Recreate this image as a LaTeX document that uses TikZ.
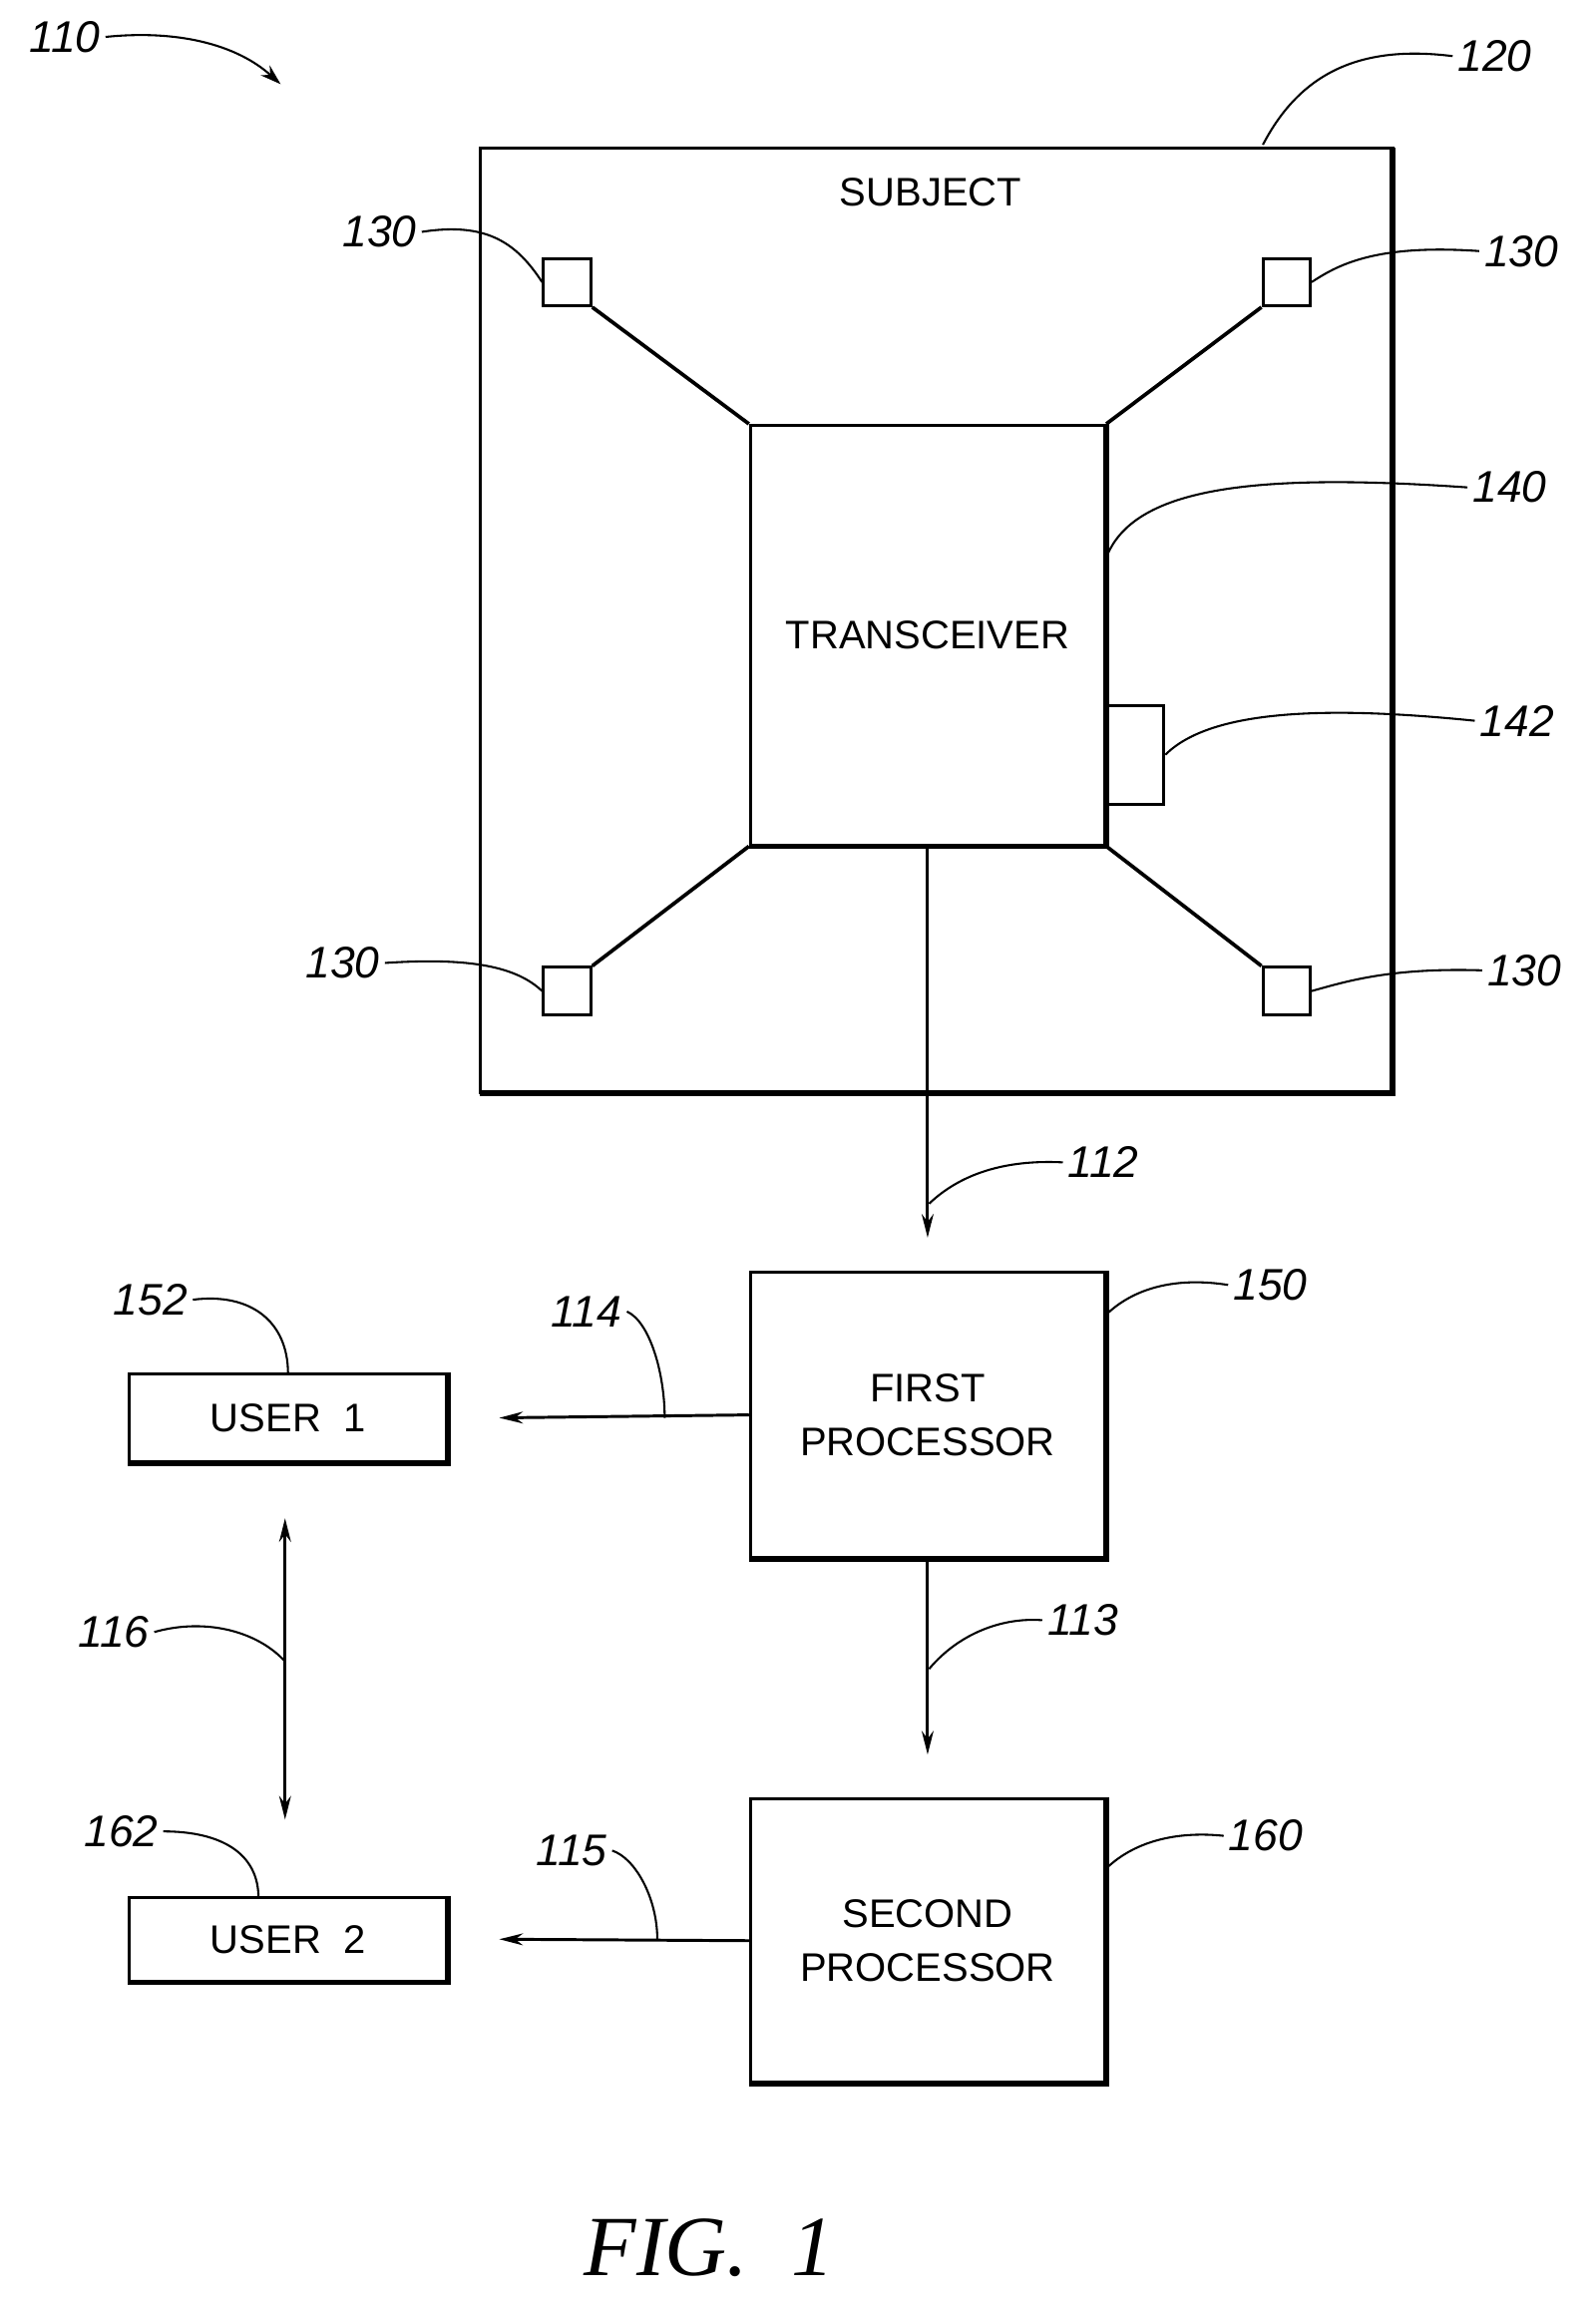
\documentclass[tikz,border=0pt]{standalone}
\usepackage{fontspec}
\setmainfont{Liberation Sans}
\usetikzlibrary{arrows.meta}
\begin{document}
\begin{tikzpicture}[x=1pt,y=-1pt,
 box/.style={draw,line width=2pt,inner sep=0pt,font=\fontsize{27}{36}\selectfont,align=center},
 sens/.style={draw,line width=2pt,minimum size=32pt,inner sep=0pt},
 lead/.style={line width=1.4pt},
 lab/.style={font=\itshape\fontsize{30}{36}\selectfont},
 arr/.style={line width=2pt,-{Stealth[length=16pt,width=8pt]}}]
\useasboundingbox (0,0) rectangle (1080,1560);
\node[box,minimum width=618pt,minimum height=640pt] (subj) at (634,420) {};
\draw[line width=4pt] (943,100) -- (943,740) -- (325,740);
\node[font=\fontsize{27}{36}\selectfont] (subjt) at (630,130) {SUBJECT};
\node[box,minimum width=240pt,minimum height=284pt] (tr) at (628,430) {TRANSCEIVER};
\draw[line width=3.5pt] (tr.north east) -- (tr.south east) -- (tr.south west);
\node[sens] (s1) at (384,191) {};
\node[sens] (s2) at (871,191) {};
\node[sens] (s3) at (384,671) {};
\node[sens] (s4) at (871,671) {};
\draw[line width=2.5pt] (s1.south east) -- (tr.north west);
\draw[line width=2.5pt] (s2.south west) -- (tr.north east);
\draw[line width=2.5pt] (s3.north east) -- (tr.south west);
\draw[line width=2.5pt] (s4.north west) -- (tr.south east);
\node[draw,line width=2pt,minimum width=40pt,minimum height=67pt,inner sep=0pt] (b142) at (768,511) {};
\node[box,minimum width=240pt,minimum height=193pt] (p1) at (628,958) {FIRST\\PROCESSOR};
\node[box,minimum width=240pt,minimum height=192pt] (p2) at (628,1314) {SECOND\\PROCESSOR};
\draw[line width=3.5pt] (p1.north east) -- (p1.south east) -- (p1.south west);
\draw[line width=3.5pt] (p2.north east) -- (p2.south east) -- (p2.south west);
\node[box,minimum width=215pt,minimum height=60pt] (u1) at (195,960) {USER\ \ 1};
\node[box,minimum width=215pt,minimum height=57pt] (u2) at (195,1313) {USER\ \ 2};
\draw[line width=3pt] (u1.north east) -- (u1.south east) -- (u1.south west);
\draw[line width=3pt] (u2.north east) -- (u2.south east) -- (u2.south west);
\coordinate (a112) at (628,572);
\coordinate (e112) at (628,838);
\draw[arr] (a112) -- (e112);
\coordinate (e114) at (338,960);
\draw[arr] (p1.west) -- (e114);
\coordinate (e113) at (628,1188);
\draw[arr] (p1.south) -- (e113);
\coordinate (e115) at (338,1313);
\draw[arr] (p2.west) -- (e115);
\coordinate (d1) at (193,1028);
\coordinate (d2) at (193,1232);
\draw[line width=2pt,{Stealth[length=16pt,width=8pt]}-{Stealth[length=16pt,width=8pt]}] (d1) -- (d2);
% labels
\node[lab] (l110) at (44,25) {110};
\coordinate (t110) at (190,57);
\draw[lead,-{Stealth[length=14pt,width=9pt]}] (l110.east) .. controls (120,20) and (160,30) .. (t110);
\node[lab] (l120) at (1012,38) {120};
\draw[lead] (l120.west) .. controls (920,30) and (880,50) .. (855,98);
\node[lab] (l130a) at (257,157) {130};
\draw[lead] (l130a.east) .. controls (330,150) and (350,165) .. (s1.west);
\node[lab] (l130b) at (1030,170) {130};
\draw[lead] (l130b.west) .. controls (930,165) and (905,180) .. (s2.east);
\node[lab] (l130c) at (232,652) {130};
\draw[lead] (l130c.east) .. controls (320,648) and (350,655) .. (s3.west);
\node[lab] (l130d) at (1032,657) {130};
\draw[lead] (l130d.west) .. controls (940,655) and (910,665) .. (s4.east);
\node[lab] (l140) at (1022,330) {140};
\draw[lead] (l140.west) .. controls (850,320) and (770,330) .. (750,375);
\node[lab] (l142) at (1027,488) {142};
\draw[lead] (l142.west) .. controls (900,478) and (820,480) .. (b142.east);
\node[lab] (l112) at (747,787) {112};
\draw[lead] (l112.west) .. controls (680,785) and (650,795) .. (629,815);
\node[lab] (l150) at (860,870) {150};
\draw[lead] (l150.west) .. controls (800,865) and (770,870) .. (749,890);
\node[lab] (l114) at (397,888) {114};
\draw[lead] (l114.east) .. controls (440,895) and (450,930) .. (450,960);
\node[lab] (l113) at (733,1097) {113};
\draw[lead] (l113.west) .. controls (680,1095) and (650,1105) .. (629,1130);
\node[lab] (l152) at (102,880) {152};
\draw[lead] (l152.east) .. controls (170,875) and (195,895) .. (195,930);
\node[lab] (l116) at (77,1105) {116};
\draw[lead] (l116.east) .. controls (140,1095) and (175,1105) .. (193,1125);
\node[lab] (l162) at (82,1240) {162};
\draw[lead] (l162.east) .. controls (150,1240) and (175,1255) .. (175,1285);
\node[lab] (l160) at (857,1243) {160};
\draw[lead] (l160.west) .. controls (800,1240) and (770,1245) .. (749,1265);
\node[lab] (l115) at (387,1253) {115};
\draw[lead] (l115.east) .. controls (430,1258) and (445,1285) .. (445,1313);
\node[font=\fontspec{Liberation Serif}\itshape\fontsize{58}{66}\selectfont] (fig) at (480,1522) {FIG.\ \ 1};
\end{tikzpicture}
\end{document}
